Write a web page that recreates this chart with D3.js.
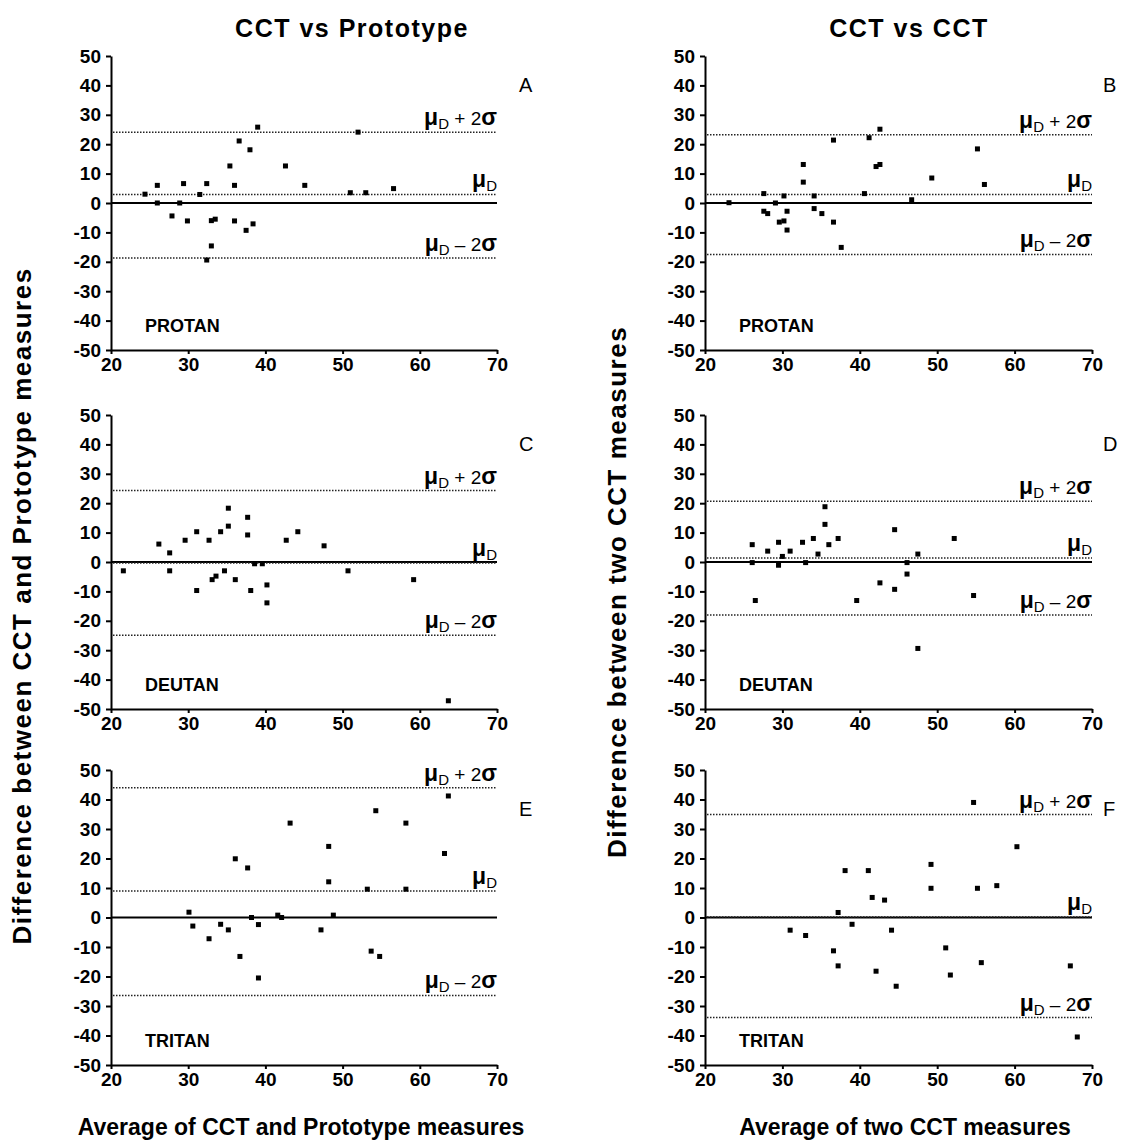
<!DOCTYPE html>
<html>
<head>
<meta charset="utf-8">
<script src="https://cdn.jsdelivr.net/npm/d3@7"></script>
<style>
  body { margin: 0; background: #fff; }
  svg { display: block; }
</style>
</head>
<body>
<div id="chart"></div>
<script>
// ---- data ----
const xTicks = [20, 30, 40, 50, 60, 70];
const yTicks = [50, 40, 30, 20, 10, 0, -10, -20, -30, -40, -50];
const colTitles = ["CCT vs Prototype", "CCT vs CCT"];
const yTitles = ["Difference between CCT and Prototype measures", "Difference between two CCT measures"];
const xTitles = ["Average of CCT and Prototype measures", "Average of two CCT measures"];
const groupNames = ["PROTAN", "DEUTAN", "TRITAN"];
const panelLetters = ["A", "B", "C", "D", "E", "F"];

// limits = [mean, mean + 2sd, mean - 2sd]
const aX = [24.4, 26.0, 26.0, 27.9, 28.9, 29.4, 29.9, 31.5, 32.4, 32.4, 33.0, 33.0, 33.5, 35.4, 36.0, 36.0, 36.6, 37.5, 38.0, 38.4, 39.0, 42.6, 45.1, 51.0, 52.0, 53.0, 56.6];
const aY = [3, 6, 0, -4.4, 0, 6.6, -6.1, 2.9, 6.6, -19.4, -14.6, -6, -5.5, 12.6, 6, -6.1, 21.1, -9.3, 18.1, -7.1, 25.8, 12.6, 6, 3.5, 24.1, 3.5, 4.9];
const aLimits = [2.9, 24.1, -18.7];

const bX = [23.1, 27.6, 27.6, 28.1, 29.1, 29.6, 30.2, 30.2, 30.6, 30.6, 32.7, 32.7, 34.1, 34.1, 35.1, 36.6, 36.6, 37.6, 40.6, 41.2, 42.6, 42.1, 42.6, 46.7, 49.3, 55.2, 56.1];
const bY = [0.1, 3.2, -2.8, -3.6, 0, -6.5, -6.1, 2.4, -2.8, -9.2, 13.1, 7.1, 2.4, -1.9, -3.6, 21.4, -6.5, -15.1, 3.2, 22.2, 25.1, 12.4, 13.1, 1.1, 8.5, 18.4, 6.3];
const bLimits = [2.9, 23.2, -17.5];

const cX = [21.6, 26.2, 27.6, 27.6, 29.6, 31.1, 31.1, 32.7, 33.1, 33.6, 34.2, 34.7, 35.2, 35.2, 36.1, 37.7, 37.7, 38.1, 38.6, 39.6, 40.2, 40.2, 42.7, 44.2, 47.6, 50.7, 59.2, 63.7];
const cY = [-3, 6.1, 3.1, -3, 7.4, 10.3, -9.7, 7.4, -6, -4.8, 10.3, -3, 18.3, 12.2, -6, 15.2, 9.2, -9.7, -0.6, -0.6, -7.8, -13.9, 7.4, 10.3, 5.5, -3, -6, -47.2];
const cLimits = [-0.3, 24.3, -24.9];

const dX = [26.1, 26.1, 26.5, 28.1, 29.5, 29.5, 30.0, 31.0, 32.6, 33.0, 34.0, 34.6, 35.5, 35.5, 36.0, 37.2, 39.6, 42.6, 44.5, 44.5, 46.1, 46.1, 47.5, 47.5, 52.2, 54.7];
const dY = [5.9, -0.2, -13.1, 3.7, 6.7, -1.1, 1.9, 3.7, 6.7, -0.2, 8.0, 2.7, 18.8, 12.8, 5.9, 8.0, -13.1, -7.1, 11.0, -9.3, -0.2, -4.1, 2.7, -29.4, 8.0, -11.4];
const dLimits = [1.4, 20.7, -18.0];

const eX = [30.1, 30.6, 32.7, 34.2, 35.2, 36.1, 36.7, 37.7, 38.2, 39.1, 39.1, 41.6, 42.1, 43.2, 47.2, 48.2, 48.2, 48.8, 53.2, 53.7, 54.3, 54.8, 58.2, 58.2, 63.2, 63.7];
const eY = [1.8, -2.9, -7.2, -2.3, -4.2, 19.9, -13.2, 16.8, 0, -2.4, -20.5, 0.8, 0, 32, -4.2, 24.1, 12.1, 0.8, 9.6, -11.4, 36.2, -13.2, 32, 9.6, 21.7, 41.2];
const eLimits = [9.0, 44.0, -26.4];

const fX = [31.0, 33.0, 36.6, 37.2, 37.2, 38.1, 39.0, 41.1, 41.6, 42.1, 43.2, 44.1, 44.7, 49.2, 49.2, 51.1, 51.7, 54.7, 55.2, 55.7, 57.7, 60.3, 67.2, 68.1];
const fY = [-4.3, -6.1, -11.3, 1.7, -16.4, 15.9, -2.3, 15.9, 6.8, -18.2, 5.9, -4.3, -23.3, 18.0, 9.9, -10.3, -19.5, 39.0, 9.9, -15.3, 10.8, 24.0, -16.4, -40.5];
const fLimits = [0.2, 34.9, -33.9];

const panelX = [aX, bX, cX, dX, eX, fX];
const panelY = [aY, bY, cY, dY, eY, fY];
const panelLimits = [aLimits, bLimits, cLimits, dLimits, eLimits, fLimits];

// ---- layout ----
const W = 1126, H = 1140;
const FONT = "'Liberation Sans', Arial, sans-serif";
const cols = [[111, 497], [705, 1092]];
const rows = [[56, 350], [415, 709], [770, 1065]];

const svg = d3.select("#chart").append("svg")
    .attr("width", W).attr("height", H)
    .style("font-family", FONT);

// column titles
const titleX = [352, 909];
colTitles.forEach((t, i) => {
    svg.append("text")
        .attr("x", titleX[i]).attr("y", 37)
        .attr("text-anchor", "middle")
        .style("font-size", "25px").style("font-weight", "bold")
        .style("letter-spacing", "1.5px")
        .text(t);
});

// y titles (rotated)
const yTitlePos = [[31, 606], [626, 592]];
yTitles.forEach((t, i) => {
    svg.append("text")
        .attr("transform", `translate(${yTitlePos[i][0]},${yTitlePos[i][1]}) rotate(-90)`)
        .attr("text-anchor", "middle")
        .style("font-size", "26px").style("font-weight", "bold")
        .style("letter-spacing", "1.5px")
        .text(t);
});

// x titles
const xTitlePos = [[301, 1135], [905, 1135]];
xTitles.forEach((t, i) => {
    svg.append("text")
        .attr("x", xTitlePos[i][0]).attr("y", xTitlePos[i][1])
        .attr("text-anchor", "middle")
        .style("font-size", "23px").style("font-weight", "bold")
        .text(t);
});

// mu label: "μD", "μD + 2σ", "μD − 2σ"
const muLabel = (g, x, y, tail) => {
    const t = g.append("text")
        .attr("x", x).attr("y", y)
        .attr("text-anchor", "end")
        .style("fill", "#000");
    t.append("tspan").style("font-size", "23px").style("font-weight", "bold").text("μ");
    t.append("tspan").style("font-size", "15px").attr("dy", 4).text("D");
    if (tail) {
        t.append("tspan").style("font-size", "19px").attr("dy", -4).text(` ${tail} 2`);
        t.append("tspan").style("font-size", "23px").style("font-weight", "bold").text("σ");
    }
};

// ---- panels ----
panelX.forEach((xs, p) => {
    const col = p % 2, row = Math.floor(p / 2);
    const x = d3.scaleLinear().domain([20, 70]).range(cols[col]);
    const y = d3.scaleLinear().domain([-50, 50]).range([rows[row][1], rows[row][0]]);
    const g = svg.append("g");

    // y axis
    const ya = g.append("g")
        .attr("transform", `translate(${cols[col][0]},0)`)
        .call(d3.axisLeft(y).tickValues(yTicks).tickSize(5).tickSizeOuter(0).tickPadding(5)
            .tickFormat(d => String(d)));
    // x axis
    const xa = g.append("g")
        .attr("transform", `translate(0,${rows[row][1]})`)
        .call(d3.axisBottom(x).tickValues(xTicks).tickSize(4).tickSizeOuter(0).tickPadding(4));
    [ya, xa].forEach(a => {
        a.selectAll("path, line").attr("stroke", "#000").attr("stroke-width", 2);
        a.selectAll("text")
            .attr("fill", "#000")
            .style("font-family", FONT)
            .style("font-size", "19px")
            .style("font-weight", "bold");
    });

    // zero line
    g.append("line")
        .attr("x1", x(20)).attr("x2", x(70))
        .attr("y1", y(0)).attr("y2", y(0))
        .attr("stroke", "#000").attr("stroke-width", 2);

    // mean and limits (dotted)
    const lim = panelLimits[p];
    lim.forEach(v => {
        g.append("line")
            .attr("x1", x(20) + 2).attr("x2", x(70))
            .attr("y1", y(v)).attr("y2", y(v))
            .attr("stroke", "#222").attr("stroke-width", 1.5)
            .attr("stroke-dasharray", "1.5,1.5");
    });
    muLabel(g, x(70), y(lim[1]) - 7, "+");
    muLabel(g, x(70), y(lim[0]) - 7, null);
    muLabel(g, x(70), y(lim[2]) - 7, "\u2013");

    // group name
    g.append("text")
        .attr("x", x(20) + 34).attr("y", y(-44))
        .style("font-size", "18px").style("font-weight", "bold")
        .text(groupNames[row]);

    // panel letter
    g.append("text")
        .attr("x", cols[col][1] + (col === 0 ? 22 : 11))
        .attr("y", rows[row][0] + (row === 2 ? 46 : 36))
        .style("font-size", "20px")
        .text(panelLetters[p]);

    // points
    const pts = xs.map((v, i) => ({ x: v, y: panelY[p][i] }));
    g.selectAll(".pt")
        .data(pts)
        .enter()
        .append("rect")
        .attr("class", "pt")
        .attr("x", d => x(d.x) - 2.5)
        .attr("y", d => y(d.y) - 2.5)
        .attr("width", 5)
        .attr("height", 5)
        .attr("fill", "#000");
});
</script>
</body>
</html>
